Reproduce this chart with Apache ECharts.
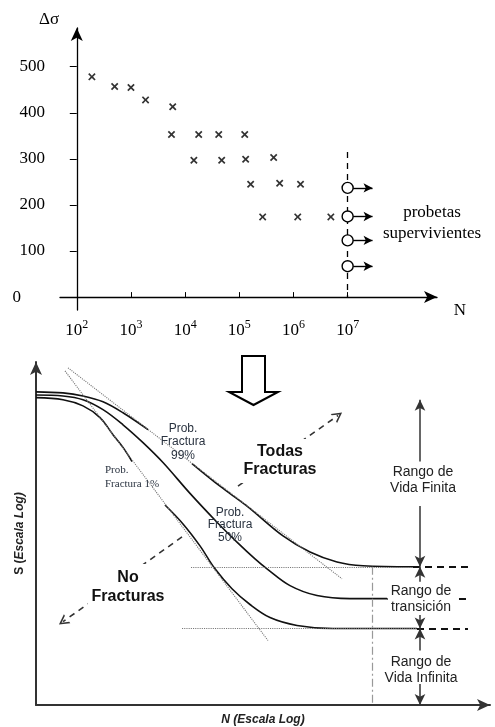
<!DOCTYPE html>
<html>
<head>
<meta charset="utf-8">
<script src="https://cdn.jsdelivr.net/npm/echarts@6/dist/echarts.min.js"></script>
<style>
  html, body { margin: 0; padding: 0; background: #fff; }
  #chart { width: 495px; height: 727px; }
</style>
</head>
<body>
<div id="chart"></div>
<script>
// ensayos con rotura: ciclos N y rango de tension
const rotN = [190, 500, 1000, 1860, 5900, 5600, 17800, 41700, 126000, 14500, 47300, 131000, 431000, 162000, 556000, 1350000, 270000, 1200000, 4900000]
const rotS = [478, 457, 455, 428, 413, 353, 353, 353, 353, 297, 297, 299, 303, 245, 247, 245, 174, 174, 174]
// probetas supervivientes (sin rotura a 1e7)
const runN = [1e7, 1e7, 1e7, 1e7]
const runS = [237, 175, 123, 67]
const yTicks = [0, 100, 200, 300, 400, 500]
const decades = [2, 3, 4, 5, 6, 7]

// esquema S-N, unidades relativas 0-100 (log N, log S); null = hueco de la etiqueta
const curve99 = [[0, 91.3], [5.95, 91.0], [10.35, 90.1], [14.76, 88.4], [19.16, 85.2], [24.67, 80.3], null,
  [34.36, 70.4], [40.53, 63.8], [46.48, 58.0], [54.41, 49.3], [60.35, 44.6], [66.3, 41.7], [72.03, 40.6], [83.04, 40.3]]
const curve50 = [[0, 90.4], [5.95, 90.1], [10.35, 89.0], [14.76, 86.1], [19.16, 81.7], [23.57, 76.5], [27.97, 70.7],
  [33.92, 61.7], [39.87, 53.3], [44.27, 47.5], [48.24, 42.6], [50.88, 39.7], [55.95, 34.8], [61.89, 31.9], [69.16, 31.0], [77.31, 31.0]]
const curve1 = [[0, 89.6], [5.95, 89.0], [10.35, 87.2], [14.1, 83.8], [16.96, 78.8], [19.16, 75.1], [21.15, 71.0], null,
  [28.41, 58.3], [32.38, 52.8], [36.12, 46.4], [39.43, 39.7], [43.17, 33.9], [47.14, 29.3], [51.54, 25.5], [57.49, 23.2], [65.42, 22.3], [83.92, 22.3]]
const tangent99 = [[7.05, 98.3], [67.4, 36.8]]
const tangent1 = [[6.39, 97.4], [51.1, 18.8]]
const limitHi = 40.3
const limitMid = 31.0
const limitLo = 22.3
const kneeN = 74.0
const rangeX = 84.58
const dashEnd = 95.15
const todasArrow = [[44.49, 63.8], [66.52, 84.4]]
const noArrow = [[32.16, 49.0], [5.95, 24.3]]

const serif = '"Liberation Serif", "Times New Roman", serif'
const sans = '"Liberation Sans", Arial, sans-serif'
const crossPath = 'path://M0,1.6L1.6,0L5,3.4L8.4,0L10,1.6L6.6,5L10,8.4L8.4,10L5,6.6L1.6,10L0,8.4L3.4,5Z'
const chevron = 'path://M0,10L5,0L10,10L8.4,10L5,3.2L1.6,10Z'

const lg = (n) => Math.log10(n) - 2

function seg(a, b, s0, s1) {
  return [{ coord: a, symbol: s0 || 'none' }, { coord: b, symbol: s1 || 'none' }]
}

function lineGroup(data, lineStyle, symbolSize) {
  return {
    type: 'line', xAxisIndex: 1, yAxisIndex: 1, data: [], silent: true,
    markLine: {
      silent: true, animation: false, symbolSize: symbolSize || [8, 11],
      label: { show: false }, emphasis: { disabled: true },
      lineStyle, data,
    },
  }
}

function curveData(c) {
  return c.map((p) => (p ? p : ['-', '-']))
}

const curveStyle = { color: '#111', width: 1.6 }

const option = {
  animation: false,
  grid: [
    { left: 60, top: 28, width: 377, height: 282 },
    { left: 36, top: 362, width: 454, height: 345 },
  ],
  xAxis: [
    {
      type: 'value', gridIndex: 0, min: -0.31, max: 6.65,
      axisLine: { show: true, onZero: true, symbol: ['none', 'arrow'], symbolSize: [9, 13], lineStyle: { color: '#000', width: 1.3 } },
      axisTick: { show: true, inside: true, length: 5, customValues: decades.slice(1).map((d) => d - 2), lineStyle: { color: '#000' } },
      axisLabel: {
        customValues: decades.map((d) => d - 2), margin: 9,
        formatter: (v) => `{b|10}{s|${Math.round(v) + 2}}`,
        rich: {
          b: { fontFamily: serif, fontSize: 17, color: '#000', verticalAlign: 'bottom' },
          s: { fontFamily: serif, fontSize: 12, color: '#000', verticalAlign: 'top', padding: [0, 0, 8, 0] },
        },
      },
      splitLine: { show: false },
    },
    {
      type: 'value', gridIndex: 1, min: 0, max: 100,
      axisLine: { show: true, onZero: false, symbol: ['none', 'arrow'], symbolSize: [9, 13], lineStyle: { color: '#333', width: 2 } },
      axisTick: { show: false }, axisLabel: { show: false }, splitLine: { show: false },
      name: '{n|N (}{i|Escala Log)}', nameLocation: 'middle', nameGap: 9,
      nameTextStyle: {
        rich: {
          n: { fontFamily: sans, fontSize: 12, fontWeight: 'bold', fontStyle: 'italic', color: '#222' },
          i: { fontFamily: sans, fontSize: 12, fontWeight: 'bold', fontStyle: 'italic', color: '#222' },
        },
      },
    },
  ],
  yAxis: [
    {
      type: 'value', gridIndex: 0, min: -28, max: 584,
      axisLine: { show: true, onZero: true, symbol: ['none', 'arrow'], symbolSize: [9, 13], lineStyle: { color: '#000', width: 1.3 } },
      axisTick: { show: true, length: 7, customValues: yTicks.slice(1), lineStyle: { color: '#000' } },
      axisLabel: {
        customValues: yTicks, margin: 15,
        formatter: (v) => (v === 0 ? '{z|0}' : `{t|${v}}`),
        rich: {
          t: { fontFamily: serif, fontSize: 17, color: '#000' },
          z: { fontFamily: serif, fontSize: 17, color: '#000', padding: [0, 24, 0, 0] },
        },
      },
      splitLine: { show: false },
    },
    {
      type: 'value', gridIndex: 1, min: 0, max: 100,
      axisLine: { show: true, onZero: false, symbol: ['none', 'arrow'], symbolSize: [9, 13], lineStyle: { color: '#333', width: 2 } },
      axisTick: { show: false }, axisLabel: { show: false }, splitLine: { show: false },
      name: '{n|S (}{i|Escala Log)}', nameLocation: 'middle', nameGap: 10, nameRotate: 90,
      nameTextStyle: {
        rich: {
          n: { fontFamily: sans, fontSize: 12, fontWeight: 'bold', color: '#222' },
          i: { fontFamily: sans, fontSize: 12, fontWeight: 'bold', fontStyle: 'italic', color: '#222' },
        },
      },
    },
  ],
  series: [
    {
      // linea vertical a 1e7 y flechas de las supervivientes
      type: 'line', xAxisIndex: 0, yAxisIndex: 0, data: [], silent: true, z: 1,
      markLine: {
        silent: true, animation: false, z: 1, symbolSize: [7, 9], label: { show: false }, emphasis: { disabled: true },
        lineStyle: { color: '#000', width: 1.4, type: 'solid' },
        data: [
          [{ coord: [lg(runN[0]), 315], symbol: 'none', lineStyle: { type: [6, 5], width: 1.3 } }, { coord: [lg(runN[0]), 0], symbol: 'none' }],
          ...runN.map((n, i) => seg([lg(n) + 0.1, runS[i]], [lg(n) + 0.46, runS[i]], 'none', 'arrow')),
        ],
      },
    },
    {
      type: 'scatter', xAxisIndex: 0, yAxisIndex: 0, symbol: crossPath, symbolSize: 7.5,
      itemStyle: { color: '#000' },
      data: rotN.map((n, i) => [lg(n), rotS[i]]),
    },
    {
      type: 'scatter', xAxisIndex: 0, yAxisIndex: 0, symbol: 'circle', symbolSize: 11, z: 10,
      itemStyle: { color: '#fff', borderColor: '#000', borderWidth: 1.4, opacity: 1 },
      data: runN.map((n, i) => [lg(n), runS[i]]),
    },
    // curvas S-N
    { type: 'line', xAxisIndex: 1, yAxisIndex: 1, smooth: 0.35, symbol: 'none', lineStyle: curveStyle, data: curveData(curve99) },
    { type: 'line', xAxisIndex: 1, yAxisIndex: 1, smooth: 0.35, symbol: 'none', lineStyle: curveStyle, data: curveData(curve50) },
    { type: 'line', xAxisIndex: 1, yAxisIndex: 1, smooth: 0.35, symbol: 'none', lineStyle: curveStyle, data: curveData(curve1) },
    lineGroup([
      seg(tangent99[0], tangent99[1]),
      seg(tangent1[0], tangent1[1]),
      seg([34.14, limitHi], [83.04, limitHi]),
      seg([32.16, limitLo], [83.92, limitLo]),
    ], { color: '#777', width: 1.1, type: 'dotted' }),
    lineGroup([seg([kneeN, limitHi], [kneeN, 0])], { color: '#999', width: 1.2, type: [8, 3, 2, 3] }),
    lineGroup([
      seg([83.04, limitHi], [dashEnd, limitHi]),
      seg([77.31, limitMid], [dashEnd, limitMid]),
      seg([83.92, limitLo], [dashEnd, limitLo]),
    ], { color: '#111', width: 2, type: [7, 5] }),
    lineGroup([
      seg([rangeX, 71.0], [rangeX, 89.0], 'none', 'arrow'),
      seg([rangeX, 58.0], [rangeX, limitHi], 'none', 'arrow'),
      seg([rangeX, 35.9], [rangeX, limitHi], 'none', 'arrow'),
      seg([rangeX, 26.7], [rangeX, limitLo], 'none', 'arrow'),
      seg([rangeX, 15.9], [rangeX, limitLo], 'none', 'arrow'),
      seg([rangeX, 6.1], [rangeX, 0], 'none', 'arrow'),
    ], { color: '#333', width: 1.5, type: 'solid' }, [8, 11]),
    {
      type: 'line', xAxisIndex: 1, yAxisIndex: 1, data: [], silent: true,
      markLine: {
        silent: true, animation: false, symbol: ['none', chevron], symbolSize: [11, 10],
        label: { show: false }, emphasis: { disabled: true },
        lineStyle: { color: '#333', width: 1.6, type: [6, 5] },
        data: [
          [{ coord: todasArrow[0] }, { coord: todasArrow[1] }],
          [{ coord: noArrow[0] }, { coord: noArrow[1] }],
        ],
      },
    },
  ],
  graphic: [
    { type: 'text', x: 49, y: 20, z: 100, style: { text: 'Δσ', font: `17px ${serif}`, fill: '#000', align: 'center', verticalAlign: 'middle' } },
    { type: 'text', x: 460, y: 311, z: 100, style: { text: 'N', font: `17px ${serif}`, fill: '#000', align: 'center', verticalAlign: 'middle' } },
    { type: 'text', x: 432, y: 223, z: 100, style: { text: 'probetas\nsupervivientes', font: `17px ${serif}`, lineHeight: 21, fill: '#000', align: 'center', verticalAlign: 'middle' } },
    {
      type: 'polygon', z: 100,
      shape: { points: [[242, 356], [265, 356], [265, 392], [278, 392], [253.5, 405], [229, 392], [242, 392]] },
      style: { fill: '#fff', stroke: '#000', lineWidth: 2 },
    },
    { type: 'text', x: 183, y: 442, z: 100, style: { text: 'Prob.\nFractura\n99%', font: `12px ${sans}`, lineHeight: 13.5, fill: '#2a3340', align: 'center', verticalAlign: 'middle' } },
    { type: 'text', x: 105, y: 477, z: 100, style: { text: 'Prob.\nFractura 1%', font: `11px ${serif}`, lineHeight: 14, fill: '#2a3340', align: 'left', verticalAlign: 'middle' } },
    { type: 'text', x: 230, y: 525, z: 100, style: { text: 'Prob.\nFractura\n50%', font: `12px ${sans}`, lineHeight: 12.5, fill: '#2a3340', align: 'center', verticalAlign: 'middle' } },
    { type: 'text', x: 280, y: 461, z: 100, style: { text: 'Todas\nFracturas', font: `bold 16px ${sans}`, lineHeight: 18, fill: '#111', align: 'center', verticalAlign: 'middle', backgroundColor: '#fff', padding: [4, 4] } },
    { type: 'text', x: 128, y: 587, z: 100, style: { text: 'No\nFracturas', font: `bold 16px ${sans}`, lineHeight: 19, fill: '#111', align: 'center', verticalAlign: 'middle', backgroundColor: '#fff', padding: [4, 4] } },
    { type: 'text', x: 423, y: 480, z: 100, style: { text: 'Rango de\nVida Finita', font: `14px ${sans}`, lineHeight: 16.5, fill: '#222', align: 'center', verticalAlign: 'middle' } },
    { type: 'text', x: 421, y: 599, z: 100, style: { text: 'Rango de\ntransición', font: `14px ${sans}`, lineHeight: 16, fill: '#222', align: 'center', verticalAlign: 'middle', backgroundColor: '#fff', padding: [0, 3] } },
    { type: 'text', x: 421, y: 670, z: 100, style: { text: 'Rango de\nVida Infinita', font: `14px ${sans}`, lineHeight: 15.5, fill: '#222', align: 'center', verticalAlign: 'middle' } },
  ],
}

const chart = echarts.init(document.getElementById('chart'), null, { renderer: 'canvas' })
chart.setOption(option)
</script>
</body>
</html>
